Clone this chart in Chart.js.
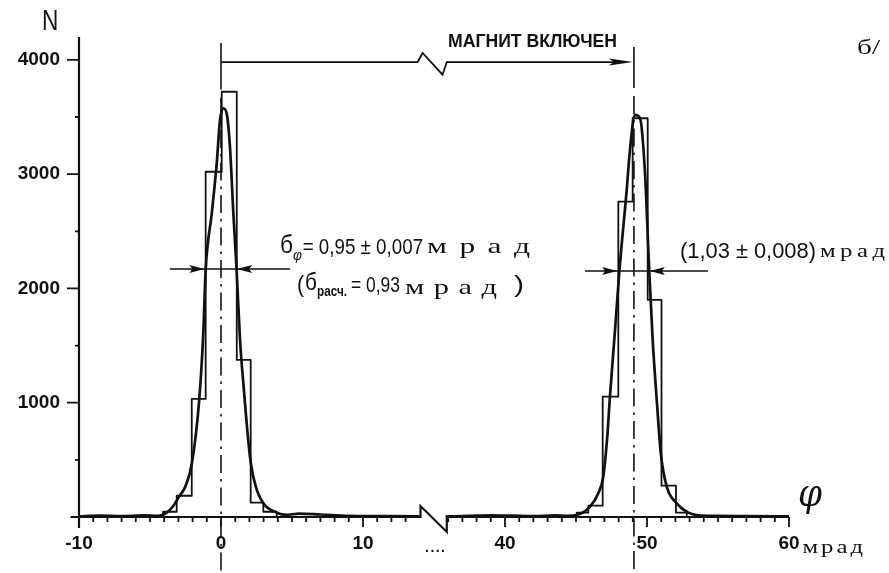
<!DOCTYPE html>
<html><head><meta charset="utf-8">
<script src="https://cdn.jsdelivr.net/npm/chart.js@4/dist/chart.umd.min.js"></script>
<style>html,body{margin:0;padding:0;background:#fff;}canvas{display:block;}</style>
</head><body>
<canvas id="c" width="889" height="573"></canvas>
<script>
// ---------------- data (x in mrad, N = counts) ----------------
const xTickValues = [-10, 0, 10, 40, 50, 60];
const xTickLabels = ['-10', '0', '10', '40', '50', '60'];
const yTickValues = [1000, 2000, 3000, 4000];
const yTickLabels = ['1000', '2000', '3000', '4000'];

// magnet off (left peak) histogram
const leftBinEdges  = [-4.08, -3.12, -2.06, -1.08, 0.05, 1.11, 2.09, 2.98, 3.92];
const leftBinCounts = [46, 186, 1033, 3021, 3721, 1374, 125, 46];
// magnet on (right peak) histogram
const rightBinEdges  = [45.05, 45.87, 46.88, 47.98, 48.99, 50.05, 51.02, 52.04, 52.80];
const rightBinCounts = [38, 99, 1053, 2759, 3489, 1899, 274, 38];

// fitted curves
const leftFitX = [-10, -8.5, -7, -5.5, -4.4, -3.82, -3.36, -2.96, -2.5, -2.05, -1.55, -1.25, -1.08, -0.65, -0.30, -0.07, 0.16, 0.40, 0.63, 0.87, 1.10, 1.34, 1.62, 1.85, 2.1, 2.45, 2.98, 3.92, 4.6, 5.5, 7, 9, 11, 13.9];
const leftFitN = [6, 12, 8, 14, 10, 38, 96, 178, 270, 470, 1000, 1600, 2161, 2657, 3095, 3474, 3576, 3532, 3240, 2657, 2161, 1549, 1100, 760, 470, 265, 120, 38, 18, 30, 22, 10, 8, 6];
const rightFitX = [35.9, 37.5, 39, 40.5, 42, 43.5, 44.4, 45.05, 45.99, 46.57, 46.92, 47.2, 47.39, 47.75, 48.05, 48.57, 48.80, 49.15, 49.51, 49.86, 50.16, 50.40, 50.70, 50.97, 51.39, 52.09, 52.91, 53.6, 55, 57, 59, 60];
const rightFitN = [5, 10, 15, 12, 8, 14, 10, 17, 90, 207, 353, 700, 1053, 1640, 2146, 2861, 3211, 3518, 3489, 3007, 2146, 1550, 1000, 560, 265, 120, 38, 15, 10, 8, 6, 5];

const peakCenters = [0, 49.08];
const halfLevels = [2170, 2152];

// ---------------- broken axis mapping ----------------
const SHIFT = 20;                       // right part (35.7..60) shifted left
function disp(x) { return x > 25 ? x - SHIFT : x; }

function histPts(edges, counts) {
  const pts = [{x: disp(edges[0]), y: 0}];
  for (let i = 0; i < counts.length; i++) {
    pts.push({x: disp(edges[i]), y: counts[i]});
    pts.push({x: disp(edges[i + 1]), y: counts[i]});
  }
  pts.push({x: disp(edges[edges.length - 1]), y: 0});
  return pts;
}
function fitPts(xs, ns) { return xs.map((x, i) => ({x: disp(x), y: ns[i]})); }

const INK = '#111';
const HAND = 'Liberation Sans';

function fitText(ctx, str, x0, x1, yMid, font) {
  ctx.save();
  ctx.font = font; ctx.textBaseline = 'middle'; ctx.textAlign = 'left';
  const w = ctx.measureText(str).width;
  ctx.translate(x0, yMid); ctx.scale((x1 - x0) / w, 1);
  ctx.fillText(str, 0, 0);
  ctx.restore();
}
function spacedText(ctx, str, x0, x1, yBase, font, hs) {
  hs = hs || 1;
  ctx.save();
  ctx.font = font; ctx.textBaseline = 'alphabetic'; ctx.textAlign = 'left';
  const chars = Array.from(str);
  const ws = chars.map(c => ctx.measureText(c).width * hs);
  const sum = ws.reduce((a, b) => a + b, 0);
  const gap = chars.length > 1 ? ((x1 - x0) - sum) / (chars.length - 1) : 0;
  let x = x0;
  chars.forEach((c, i) => {
    ctx.save(); ctx.translate(x, yBase); ctx.scale(hs, 1); ctx.fillText(c, 0, 0); ctx.restore();
    x += ws[i] + gap;
  });
  ctx.restore();
}
function arrowHead(ctx, tx, ty, dir, len, half) {
  ctx.beginPath();
  ctx.moveTo(tx, ty);
  ctx.lineTo(tx - dir * len, ty - half);
  ctx.lineTo(tx - dir * len * 0.8, ty);
  ctx.lineTo(tx - dir * len, ty + half);
  ctx.closePath();
  ctx.fill();
}

const decor = {
  id: 'decor',
  afterDraw(chart) {
    const ctx = chart.ctx, xs = chart.scales.x, ys = chart.scales.y;
    const X = d => xs.getPixelForValue(d);
    const XR = v => X(disp(v));
    const Y = n => ys.getPixelForValue(n);
    ctx.save();
    ctx.strokeStyle = INK; ctx.fillStyle = INK; ctx.lineCap = 'butt';

    // axes
    ctx.lineWidth = 2.2;
    ctx.beginPath();
    ctx.moveTo(X(-10), ys.top); ctx.lineTo(X(-10), Y(-96));
    ctx.moveTo(X(-10.6), Y(0)); ctx.lineTo(X(14.05), Y(0));
    ctx.lineTo(X(14.05), Y(96)); ctx.lineTo(X(15.9), Y(-131)); ctx.lineTo(X(15.9), Y(0));
    ctx.lineTo(X(40), Y(0));
    ctx.stroke();

    // x ticks (every 1 mrad, except in the break)
    ctx.lineWidth = 1.8;
    ctx.beginPath();
    for (let v = -10; v <= 60; v++) {
      if (v > 13 && v < 36) continue;
      const major = xTickValues.includes(v);
      const px = XR(v);
      ctx.moveTo(px, Y(0)); ctx.lineTo(px, Y(0) + (major ? 10 : 5));
    }
    // y ticks
    for (let n = 500; n <= 4000; n += 500) {
      const major = yTickValues.includes(n);
      ctx.moveTo(X(-10), Y(n)); ctx.lineTo(X(-10) - (major ? 12 : 4), Y(n));
    }
    ctx.stroke();

    // dash-dot centre lines
    const bottomN = -470;
    ctx.lineWidth = 1.6;
    const centreTops = [4148, 4112];
    const solidEnds = [3740, 3754];
    peakCenters.forEach((c, i) => {
      const px = XR(c);
      ctx.setLineDash([]);
      ctx.beginPath(); ctx.moveTo(px, Y(centreTops[i])); ctx.lineTo(px, Y(solidEnds[i])); ctx.stroke();
      ctx.setLineDash([18, 6, 2.5, 6]);
      ctx.beginPath(); ctx.moveTo(px, Y(solidEnds[i]) + 8); ctx.lineTo(px, Y(bottomN)); ctx.stroke();
    });
    ctx.setLineDash([]);

    // "magnet on" bracket
    const bN = 3981;
    ctx.lineWidth = 1.8;
    ctx.beginPath();
    ctx.moveTo(XR(peakCenters[0]), Y(bN));
    ctx.lineTo(X(13.85), Y(bN));
    ctx.lineTo(X(14.2), Y(4060));
    ctx.lineTo(X(15.6), Y(3870));
    ctx.lineTo(X(15.9), Y(bN));
    ctx.lineTo(XR(peakCenters[1]) - 10, Y(bN));
    ctx.stroke();
    arrowHead(ctx, XR(peakCenters[1]) - 1, Y(bN), 1, 24, 3.5);

    // half-width markers
    ctx.lineWidth = 1.6;
    const markerSpans = [[-3.6, 4.86], [45.63, 54.3]];
    const tips = [[-1.17, 1.13], [47.9, 50.2]];
    markerSpans.forEach((s, i) => {
      const y = Y(halfLevels[i]);
      ctx.beginPath(); ctx.moveTo(XR(s[0]), y); ctx.lineTo(XR(s[1]), y); ctx.stroke();
      arrowHead(ctx, XR(tips[i][0]), y, 1, 15, 4);
      arrowHead(ctx, XR(tips[i][1]), y, -1, 15, 4);
    });

    // texts
    ctx.fillStyle = INK;
    fitText(ctx, 'N', X(-12.6), X(-11.45), Y(4331), `30px ${HAND}`);
    fitText(ctx, 'МАГНИТ ВКЛЮЧЕН', X(15.99), X(27.89), Y(4156), `bold 18px ${HAND}`);
    fitText(ctx, 'б/', X(44.79), X(46.41), Y(4104), `22px 'Liberation Serif'`);

    // line 1
    fitText(ctx, 'б', X(4.15), X(5.07), Y(2371), `25px ${HAND}`);
    fitText(ctx, 'φ', X(5.07), X(5.70), Y(2284), `italic 15px ${HAND}`);
    fitText(ctx, '= 0,95 ± 0,007', X(5.75), X(14.23), Y(2354), `22px ${HAND}`);
    spacedText(ctx, 'мрад', X(14.51), X(21.76), Y(2310), `21px 'Liberation Serif'`, 1.5);
    // line 2
    fitText(ctx, '(', X(5.35), X(5.85), Y(2030), `24px ${HAND}`);
    fitText(ctx, 'б', X(5.92), X(6.76), Y(2039), `23px ${HAND}`);
    fitText(ctx, 'расч.', X(6.76), X(8.87), Y(1965), `bold 14px ${HAND}`);
    fitText(ctx, '= 0,93', X(9.15), X(12.61), Y(2021), `22px ${HAND}`);
    spacedText(ctx, 'мрад', X(12.96), X(19.44), Y(1951), `21px 'Liberation Serif'`, 1.45);
    fitText(ctx, ')', X(20.63), X(21.34), Y(2030), `24px ${HAND}`);
    // line 3
    fitText(ctx, '(1,03 ± 0,008)', X(32.32), X(41.90), Y(2319), `22px ${HAND}`);
    spacedText(ctx, 'мрад', X(42.18), X(46.76), Y(2275), `19px 'Liberation Serif'`, 1.3);
    // axis extras
    spacedText(ctx, 'мрад', X(40.95), X(45.21), Y(-315), `19px 'Liberation Serif'`, 1.3);
    fitText(ctx, 'φ', X(40.63), X(42.32), Y(184), `italic 40px 'DejaVu Serif'`);
    spacedText(ctx, '....', X(14.37), X(15.77), Y(-306), `bold 14px ${HAND}`);
    ctx.restore();
  }
};

new Chart(document.getElementById('c').getContext('2d'), {
  type: 'line',
  data: {
    datasets: [
      {data: histPts(leftBinEdges, leftBinCounts), borderColor: INK, borderWidth: 1.8, pointRadius: 0, tension: 0, fill: false},
      {data: histPts(rightBinEdges, rightBinCounts), borderColor: INK, borderWidth: 1.8, pointRadius: 0, tension: 0, fill: false},
      {data: fitPts(leftFitX, leftFitN), borderColor: INK, borderWidth: 2.7, pointRadius: 0, cubicInterpolationMode: 'monotone', fill: false},
      {data: fitPts(rightFitX, rightFitN), borderColor: INK, borderWidth: 2.7, pointRadius: 0, cubicInterpolationMode: 'monotone', fill: false}
    ]
  },
  options: {
    responsive: false, animation: false, devicePixelRatio: 1,
    layout: {padding: {top: 37, right: 100, bottom: 0, left: 0}},
    plugins: {legend: {display: false}, tooltip: {enabled: false}},
    elements: {line: {borderCapStyle: 'round', borderJoinStyle: 'round'}},
    scales: {
      x: {
        type: 'linear', min: -10, max: 40,
        grid: {display: false, drawTicks: false}, border: {display: false},
        afterBuildTicks: a => { a.ticks = xTickValues.map(v => ({value: disp(v)})); },
        afterFit: a => { a.height = 56; },
        ticks: {autoSkip: false, maxRotation: 0, minRotation: 0, padding: 15, color: INK,
                font: {family: HAND, size: 19, weight: 'bold'},
                callback: (v, i) => xTickLabels[i]}
      },
      y: {
        type: 'linear', min: 0, max: 4200,
        grid: {display: false, drawTicks: false}, border: {display: false},
        afterBuildTicks: a => { a.ticks = yTickValues.map(v => ({value: v})); },
        afterFit: a => { a.width = 79; },
        ticks: {padding: 19, color: INK, font: {family: HAND, size: 19, weight: 'bold'},
                callback: (v, i) => yTickLabels[i]}
      }
    }
  },
  plugins: [decor]
});
</script>
</body></html>
